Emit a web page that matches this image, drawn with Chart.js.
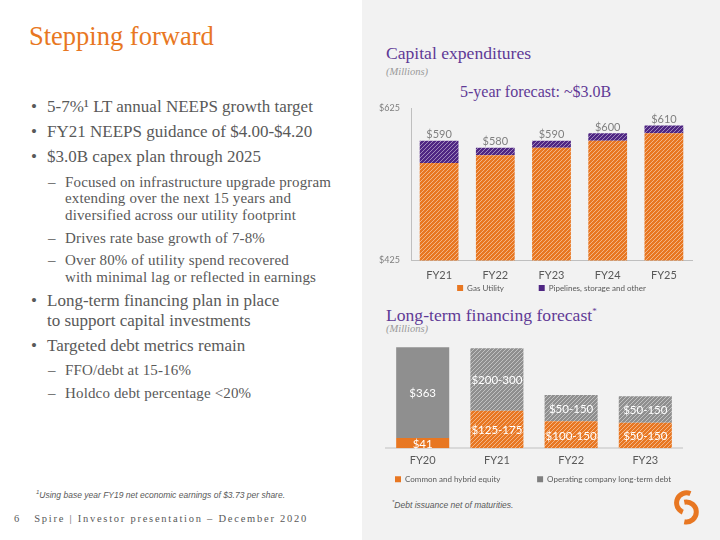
<!DOCTYPE html>
<html lang="en">
<head>
<meta charset="UTF-8" />
<title>Stepping forward</title>
<script src="https://cdn.jsdelivr.net/npm/chart.js@4"></script>
<style>
	* { box-sizing: border-box; }
	html, body { margin: 0; padding: 0; }
	body {
		width: 720px;
		height: 540px;
		position: relative;
		overflow: hidden;
		background: #ffffff;
		font-family: "Liberation Serif", serif;
		color: #595959;
	}
	.panel {
		position: absolute;
		left: 362px;
		top: 0;
		width: 358px;
		height: 540px;
		background: #f2f2f2;
	}
	.ln {
		position: absolute;
		white-space: nowrap;
		line-height: 20px;
	}
	.title { left: 29px; top: 18px; font-size: 26.5px; line-height: 36px; color: #e87722; }
	.main { font-size: 17px; left: 47px; }
	.main .dot { position: absolute; left: -16px; }
	.sub { font-size: 15px; letter-spacing: 0.15px; left: 65px; }
	.sub .dash { position: absolute; left: -17px; }
	.note { font-family: "Liberation Sans", sans-serif; font-style: italic; font-size: 8.5px; }
	.footer { left: 14px; top: 509px; font-size: 10.5px; letter-spacing: 1.75px; color: #595959; }
	.ctitle { left: 386px; font-size: 17.6px; color: #5f3a96; line-height: 24px; }
	.units { left: 386px; font-size: 10.5px; font-style: italic; font-weight: normal; color: #9a9a9a; }
	.forecast { left: 460px; top: 82px; font-size: 16px; color: #5f3a96; }
	#capexWrap { position: absolute; left: 362px; top: 96px; width: 358px; height: 206px; }
	#finWrap { position: absolute; left: 352px; top: 335px; width: 362px; height: 158.3px; }
	svg { position: absolute; left: 0; top: 0; }
</style>
</head>
<body>
	<div class="panel"></div>

	<div class="ln title">Stepping forward</div>

	<div class="ln main" style="top:97px"><span class="dot">•</span>5-7%¹ LT annual NEEPS growth target</div>
	<div class="ln main" style="top:122px"><span class="dot">•</span>FY21 NEEPS guidance of $4.00-$4.20</div>
	<div class="ln main" style="top:147px"><span class="dot">•</span>$3.0B capex plan through 2025</div>
	<div class="ln sub" style="top:172px"><span class="dash">–</span>Focused on infrastructure upgrade program</div>
	<div class="ln sub" style="top:188px">extending over the next 15 years and</div>
	<div class="ln sub" style="top:205px">diversified across our utility footprint</div>
	<div class="ln sub" style="top:228px"><span class="dash">–</span>Drives rate base growth of 7-8%</div>
	<div class="ln sub" style="top:250px"><span class="dash">–</span>Over 80% of utility spend recovered</div>
	<div class="ln sub" style="top:267px">with minimal lag or reflected in earnings</div>
	<div class="ln main" style="top:291px"><span class="dot">•</span>Long-term financing plan in place</div>
	<div class="ln main" style="top:311px">to support capital investments</div>
	<div class="ln main" style="top:336px"><span class="dot">•</span>Targeted debt metrics remain</div>
	<div class="ln sub" style="top:360px"><span class="dash">–</span>FFO/debt at 15-16%</div>
	<div class="ln sub" style="top:383px"><span class="dash">–</span>Holdco debt percentage &lt;20%</div>

	<div class="ln note" style="left:36px;top:482px"><sup style="font-size:6px">1</sup>Using base year FY19 net economic earnings of $3.73 per share.</div>
	<div class="ln footer">6&nbsp;&nbsp;&nbsp;Spire | Investor presentation – December 2020</div>

	<div class="ln ctitle" style="top:41px">Capital expenditures</div>
	<div class="ln units" style="top:62px">(Millions)</div>
	<div class="ln forecast">5-year forecast: ~$3.0B</div>

	<div class="ln ctitle" style="top:299px">Long-term financing forecast<sup style="font-size:9px">*</sup></div>
	<div class="ln units" style="top:319px">(Millions)</div>
	<div class="ln note" style="left:392px;top:492px"><sup style="font-size:6px">*</sup>Debt issuance net of maturities.</div>

	<div id="capexWrap"><canvas id="capexChart"></canvas></div>
	<div id="finWrap"><canvas id="finChart"></canvas></div>

	<svg width="720" height="540" viewBox="0 0 720 540">
		<path d="M690.4 493.6 A10 10 0 1 0 682.8 512.1" fill="none" stroke="#e87722" stroke-width="5" />
		<path d="M684.3 502.2 A10 10 0 1 1 684.3 521.8" fill="none" stroke="#e87722" stroke-width="5" />
	</svg>

	<script>
		// capital expenditures ($M)
		const capexYears = ['FY21', 'FY22', 'FY23', 'FY24', 'FY25'];
		const gasUtility = [553, 563, 573, 582, 592];
		const pipelines = [29, 10, 9, 10, 10];
		const gasLabels = ['560', '570', '580', '590', '600'];
		const totalLabels = ['$590', '$580', '$590', '$600', '$610'];
		const capexTicks = [425, 625];

		// long-term financing ($M)
		const finYears = ['FY20', 'FY21', 'FY22', 'FY23'];
		const equity = [41, 150, 108, 102];
		const debt = [363, 250, 105, 106];
		const equityLabels = ['$41', '$125-175', '$100-150', '$50-150'];
		const debtLabels = ['$363', '$200-300', '$50-150', '$50-150'];

		const ORANGE = '#e87722';
		const PURPLE = '#4f2683';
		const GREY = '#8f8f8f';

		const hatch = (color) => {
			const size = 4;
			const c = document.createElement('canvas');
			c.width = size;
			c.height = size;
			const g = c.getContext('2d');
			g.fillStyle = color;
			g.fillRect(0, 0, size, size);
			g.strokeStyle = 'rgba(255,255,255,0.45)';
			g.lineWidth = 1;
			g.beginPath();
			g.moveTo(0, size); g.lineTo(size, 0);
			g.moveTo(-1, 1); g.lineTo(1, -1);
			g.moveTo(size - 1, size + 1); g.lineTo(size + 1, size - 1);
			g.stroke();
			return g.createPattern(c, 'repeat');
		};

		// draws text on the bars (inside labels per dataset, optional total above the stack)
		const barLabels = {
			id: 'barLabels',
			afterDatasetsDraw(chart, args, opts) {
				const ctx = chart.ctx;
				ctx.save();
				ctx.textAlign = 'center';
				ctx.textBaseline = 'middle';
				(opts.inside || []).forEach((texts, di) => {
					const meta = chart.getDatasetMeta(di);
					ctx.font = opts.font;
					ctx.fillStyle = '#ffffff';
					meta.data.forEach((bar, i) => {
						ctx.fillText(texts[i], bar.x, (bar.y + bar.base) / 2 + 1);
					});
				});
				if (opts.top) {
					const meta = chart.getDatasetMeta(chart.data.datasets.length - 1);
					ctx.font = opts.topFont;
					ctx.fillStyle = '#7f7f7f';
					meta.data.forEach((bar, i) => {
						ctx.fillText(opts.top[i], bar.x, bar.y - 6);
					});
				}
				ctx.restore();
			},
		};

		Chart.defaults.font.family = 'Lato, "Liberation Sans", sans-serif';
		Chart.defaults.color = '#595959';
		Chart.defaults.animation = false;

		// legend with a wider gap after every item but the last
		const legendLabels = (gap, padding) => ({
			boxWidth: 6,
			boxHeight: 6,
			padding,
			font: { size: 8 },
			color: '#595959',
			generateLabels(chart) {
				const items = Chart.defaults.plugins.legend.labels.generateLabels(chart);
				items.forEach((item, i) => {
					item.fillStyle = chart.data.datasets[i].legendColor;
					if (i < items.length - 1) item.text += ' '.repeat(gap);
				});
				return items;
			},
		});

		new Chart(document.getElementById('capexChart'), {
			type: 'bar',
			data: {
				labels: capexYears,
				datasets: [
					{ label: 'Gas Utility', data: gasUtility, backgroundColor: hatch(ORANGE), legendColor: ORANGE },
					{ label: 'Pipelines, storage and other', data: pipelines, backgroundColor: hatch(PURPLE), legendColor: PURPLE },
				],
			},
			options: {
				responsive: true,
				maintainAspectRatio: false,
				barPercentage: 0.69,
				categoryPercentage: 1,
				layout: { padding: { top: 12, right: 28, left: 0, bottom: 0 } },
				scales: {
					x: {
						stacked: true,
						grid: { display: false, drawTicks: false },
						border: { color: '#bfbfbf', width: 1 },
						ticks: { font: { size: 11 }, color: '#595959', padding: 8 },
						afterFit(scale) {
							scale.height = 21.5;
						},
					},
					y: {
						stacked: true,
						min: 425,
						max: 625,
						grid: { display: false },
						border: { color: '#bfbfbf', width: 1 },
						afterBuildTicks(scale) {
							scale.ticks = capexTicks.map((value) => ({ value }));
						},
						afterFit(scale) {
							scale.width = 49;
						},
						ticks: {
							font: { size: 9 },
							color: '#7f7f7f',
							padding: 3,
							callback: (v) => '$' + v,
						},
					},
				},
				plugins: {
					legend: {
						position: 'bottom',
						fullSize: false,
						labels: legendLabels(16, 2),
					},
					tooltip: { enabled: false },
					barLabels: {
						inside: [gasLabels],
						top: totalLabels,
						font: '11.5px Lato',
						topFont: '11px Lato',
					},
				},
			},
			plugins: [barLabels],
		});

		// invisible side axes only reserve room so the legend can span the full canvas
		const spacer = (width, position) => ({
			position,
			display: true,
			grid: { display: false },
			border: { display: false },
			ticks: { display: false },
			afterFit(scale) {
				scale.width = width;
			},
		});

		new Chart(document.getElementById('finChart'), {
			type: 'bar',
			data: {
				labels: finYears,
				datasets: [
					{
						label: 'Common and hybrid equity',
						data: equity,
						backgroundColor: [ORANGE, hatch(ORANGE), hatch(ORANGE), hatch(ORANGE)],
						legendColor: ORANGE,
					},
					{
						label: 'Operating company long-term debt',
						data: debt,
						backgroundColor: [GREY, hatch(GREY), hatch(GREY), hatch(GREY)],
						legendColor: '#7f7f7f',
					},
				],
			},
			options: {
				responsive: true,
				maintainAspectRatio: false,
				barPercentage: 0.715,
				categoryPercentage: 1,
				layout: { padding: { top: 8.3, right: 0, left: 0, bottom: 0 } },
				scales: {
					x: {
						stacked: true,
						grid: { display: false, drawTicks: false },
						border: { color: '#d9d9d9', width: 2 },
						ticks: { font: { size: 11 }, color: '#595959', padding: 6 },
						afterFit(scale) {
							scale.height = 21;
						},
					},
					y: {
						...spacer(33.6, 'left'),
						stacked: true,
						min: 0,
						max: 420,
					},
					y2: spacer(31.6, 'right'),
				},
				plugins: {
					legend: {
						position: 'bottom',
						labels: legendLabels(15, 6),
					},
					tooltip: { enabled: false },
					barLabels: {
						inside: [equityLabels, debtLabels],
						font: '11.5px Lato',
					},
				},
			},
			plugins: [barLabels],
		});
	</script>
</body>
</html>
